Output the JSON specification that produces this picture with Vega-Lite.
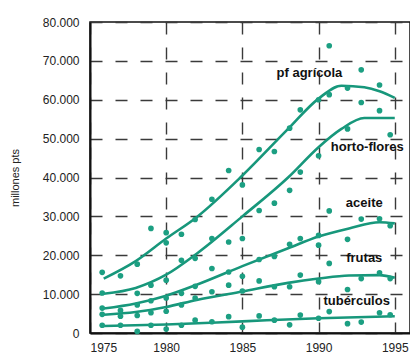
{
  "$schema": "https://vega.github.io/schema/vega-lite/v6.json",
  "width": 320,
  "height": 311,
  "autosize": {"type": "pad"},
  "padding": {"left": 9, "top": 16, "right": 0, "bottom": 0},
  "config": {
    "view": {"stroke": "#111", "strokeWidth": 1.5},
    "axis": {
      "labelFont": "Liberation Sans",
      "labelFontSize": 12,
      "labelColor": "#222",
      "labelOverlap": false,
      "titleFont": "Liberation Sans",
      "gridColor": "#3a3a3a",
      "gridWidth": 1.4,
      "gridDash": [12, 13],
      "domainColor": "#111",
      "domainWidth": 2,
      "ticks": false
    }
  },
  "datasets": {
    "points": [
      {"series": "pf agrícola", "year": 1975.8, "value": 15600},
      {"series": "pf agrícola", "year": 1977.0, "value": 14700},
      {"series": "pf agrícola", "year": 1978.1, "value": 17700},
      {"series": "pf agrícola", "year": 1979.0, "value": 26900},
      {"series": "pf agrícola", "year": 1980.0, "value": 23200},
      {"series": "pf agrícola", "year": 1980.0, "value": 25800},
      {"series": "pf agrícola", "year": 1981.0, "value": 25400},
      {"series": "pf agrícola", "year": 1981.9, "value": 29200},
      {"series": "pf agrícola", "year": 1983.0, "value": 34400},
      {"series": "pf agrícola", "year": 1984.1, "value": 41800},
      {"series": "pf agrícola", "year": 1985.0, "value": 38100},
      {"series": "pf agrícola", "year": 1986.1, "value": 47200},
      {"series": "pf agrícola", "year": 1987.1, "value": 46700},
      {"series": "pf agrícola", "year": 1988.1, "value": 52700},
      {"series": "pf agrícola", "year": 1988.8, "value": 57400},
      {"series": "pf agrícola", "year": 1990.0, "value": 60000},
      {"series": "pf agrícola", "year": 1990.7, "value": 73900},
      {"series": "pf agrícola", "year": 1990.7, "value": 61300},
      {"series": "pf agrícola", "year": 1991.9, "value": 63000},
      {"series": "pf agrícola", "year": 1992.8, "value": 67700},
      {"series": "pf agrícola", "year": 1992.8, "value": 59300},
      {"series": "pf agrícola", "year": 1994.0, "value": 63800},
      {"series": "horto-flores", "year": 1975.8, "value": 10300},
      {"series": "horto-flores", "year": 1978.1, "value": 10200},
      {"series": "horto-flores", "year": 1979.0, "value": 12300},
      {"series": "horto-flores", "year": 1980.0, "value": 13600},
      {"series": "horto-flores", "year": 1981.0, "value": 18700},
      {"series": "horto-flores", "year": 1981.9, "value": 19200},
      {"series": "horto-flores", "year": 1983.0, "value": 24300},
      {"series": "horto-flores", "year": 1984.1, "value": 23400},
      {"series": "horto-flores", "year": 1985.0, "value": 24300},
      {"series": "horto-flores", "year": 1986.1, "value": 31500},
      {"series": "horto-flores", "year": 1987.1, "value": 33400},
      {"series": "horto-flores", "year": 1988.1, "value": 36700},
      {"series": "horto-flores", "year": 1988.8, "value": 41400},
      {"series": "horto-flores", "year": 1990.0, "value": 45600},
      {"series": "horto-flores", "year": 1991.9, "value": 52500},
      {"series": "horto-flores", "year": 1994.0, "value": 57200},
      {"series": "horto-flores", "year": 1994.7, "value": 51000},
      {"series": "aceite", "year": 1975.8, "value": 6400},
      {"series": "aceite", "year": 1977.0, "value": 5800},
      {"series": "aceite", "year": 1978.1, "value": 7200},
      {"series": "aceite", "year": 1979.0, "value": 8300},
      {"series": "aceite", "year": 1980.0, "value": 9000},
      {"series": "aceite", "year": 1981.0, "value": 10200},
      {"series": "aceite", "year": 1981.9, "value": 12000},
      {"series": "aceite", "year": 1983.0, "value": 16600},
      {"series": "aceite", "year": 1984.1, "value": 15700},
      {"series": "aceite", "year": 1985.0, "value": 14600},
      {"series": "aceite", "year": 1986.1, "value": 18900},
      {"series": "aceite", "year": 1987.1, "value": 19700},
      {"series": "aceite", "year": 1988.1, "value": 22800},
      {"series": "aceite", "year": 1988.8, "value": 24300},
      {"series": "aceite", "year": 1990.0, "value": 22600},
      {"series": "aceite", "year": 1990.0, "value": 25100},
      {"series": "aceite", "year": 1990.7, "value": 31400},
      {"series": "aceite", "year": 1991.9, "value": 24100},
      {"series": "aceite", "year": 1992.8, "value": 29300},
      {"series": "aceite", "year": 1994.0, "value": 29400},
      {"series": "aceite", "year": 1994.7, "value": 27600},
      {"series": "frutas", "year": 1975.8, "value": 4800},
      {"series": "frutas", "year": 1977.0, "value": 4300},
      {"series": "frutas", "year": 1978.1, "value": 4500},
      {"series": "frutas", "year": 1979.0, "value": 5200},
      {"series": "frutas", "year": 1980.0, "value": 5600},
      {"series": "frutas", "year": 1981.0, "value": 7200},
      {"series": "frutas", "year": 1981.9, "value": 9000},
      {"series": "frutas", "year": 1983.0, "value": 10600},
      {"series": "frutas", "year": 1984.1, "value": 12300},
      {"series": "frutas", "year": 1985.0, "value": 10800},
      {"series": "frutas", "year": 1986.1, "value": 13400},
      {"series": "frutas", "year": 1987.1, "value": 11900},
      {"series": "frutas", "year": 1988.1, "value": 11900},
      {"series": "frutas", "year": 1988.8, "value": 14900},
      {"series": "frutas", "year": 1990.0, "value": 13200},
      {"series": "frutas", "year": 1990.7, "value": 17900},
      {"series": "frutas", "year": 1991.9, "value": 11200},
      {"series": "frutas", "year": 1992.8, "value": 14000},
      {"series": "frutas", "year": 1994.0, "value": 15500},
      {"series": "frutas", "year": 1994.7, "value": 14000},
      {"series": "tubérculos", "year": 1975.8, "value": 2000},
      {"series": "tubérculos", "year": 1977.0, "value": 2000},
      {"series": "tubérculos", "year": 1978.1, "value": 400},
      {"series": "tubérculos", "year": 1979.0, "value": 2000},
      {"series": "tubérculos", "year": 1980.0, "value": 1000},
      {"series": "tubérculos", "year": 1981.0, "value": 2000},
      {"series": "tubérculos", "year": 1981.9, "value": 3300},
      {"series": "tubérculos", "year": 1983.0, "value": 2900},
      {"series": "tubérculos", "year": 1984.1, "value": 4200},
      {"series": "tubérculos", "year": 1985.0, "value": 1500},
      {"series": "tubérculos", "year": 1986.1, "value": 4400},
      {"series": "tubérculos", "year": 1987.1, "value": 3300},
      {"series": "tubérculos", "year": 1988.1, "value": 2100},
      {"series": "tubérculos", "year": 1988.8, "value": 4600},
      {"series": "tubérculos", "year": 1990.0, "value": 3800},
      {"series": "tubérculos", "year": 1990.7, "value": 5500},
      {"series": "tubérculos", "year": 1991.9, "value": 2400},
      {"series": "tubérculos", "year": 1992.8, "value": 2800},
      {"series": "tubérculos", "year": 1994.0, "value": 5200},
      {"series": "tubérculos", "year": 1994.7, "value": 4700}
    ],
    "curves": [
      {"series": "pf agrícola", "year": 1975.9, "value": 14000},
      {"series": "pf agrícola", "year": 1978, "value": 18500},
      {"series": "pf agrícola", "year": 1980, "value": 24300},
      {"series": "pf agrícola", "year": 1982, "value": 29800},
      {"series": "pf agrícola", "year": 1985, "value": 40500},
      {"series": "pf agrícola", "year": 1988, "value": 52500},
      {"series": "pf agrícola", "year": 1990, "value": 60300},
      {"series": "pf agrícola", "year": 1991.5, "value": 63600},
      {"series": "pf agrícola", "year": 1993, "value": 63200},
      {"series": "pf agrícola", "year": 1994, "value": 62200},
      {"series": "pf agrícola", "year": 1995, "value": 60500},
      {"series": "horto-flores", "year": 1975.9, "value": 10100},
      {"series": "horto-flores", "year": 1978, "value": 11600},
      {"series": "horto-flores", "year": 1980, "value": 15000},
      {"series": "horto-flores", "year": 1982, "value": 20400},
      {"series": "horto-flores", "year": 1985, "value": 30000},
      {"series": "horto-flores", "year": 1988, "value": 40000},
      {"series": "horto-flores", "year": 1990, "value": 47800},
      {"series": "horto-flores", "year": 1991.5, "value": 52500},
      {"series": "horto-flores", "year": 1993, "value": 55300},
      {"series": "horto-flores", "year": 1995, "value": 55300},
      {"series": "aceite", "year": 1975.9, "value": 6300},
      {"series": "aceite", "year": 1978, "value": 7600},
      {"series": "aceite", "year": 1980, "value": 9600},
      {"series": "aceite", "year": 1982, "value": 12400},
      {"series": "aceite", "year": 1985, "value": 17200},
      {"series": "aceite", "year": 1988, "value": 21800},
      {"series": "aceite", "year": 1990, "value": 24800},
      {"series": "aceite", "year": 1992, "value": 26900},
      {"series": "aceite", "year": 1994, "value": 28500},
      {"series": "aceite", "year": 1995, "value": 28200},
      {"series": "frutas", "year": 1975.9, "value": 4700},
      {"series": "frutas", "year": 1978, "value": 5400},
      {"series": "frutas", "year": 1980, "value": 6700},
      {"series": "frutas", "year": 1982, "value": 8500},
      {"series": "frutas", "year": 1985, "value": 10700},
      {"series": "frutas", "year": 1988, "value": 12900},
      {"series": "frutas", "year": 1990, "value": 14000},
      {"series": "frutas", "year": 1992, "value": 14800},
      {"series": "frutas", "year": 1994, "value": 14900},
      {"series": "frutas", "year": 1995, "value": 14200},
      {"series": "tubérculos", "year": 1975.9, "value": 1800},
      {"series": "tubérculos", "year": 1980, "value": 2200},
      {"series": "tubérculos", "year": 1985, "value": 3000},
      {"series": "tubérculos", "year": 1990, "value": 3800},
      {"series": "tubérculos", "year": 1995, "value": 4300}
    ],
    "labels": [
      {"label": "pf agrícola", "year": 1989.4, "value": 67000},
      {"label": "horto-flores", "year": 1993.2, "value": 47800},
      {"label": "aceite", "year": 1993.0, "value": 33500},
      {"label": "frutas", "year": 1993.0, "value": 19200},
      {"label": "tubérculos", "year": 1992.5, "value": 8200}
    ]
  },
  "encoding": {
    "x": {
      "field": "year", "type": "quantitative",
      "scale": {"domain": [1975, 1996], "nice": false, "zero": false},
      "axis": {"values": [1975, 1980, 1985, 1990, 1995], "tickCount": 10, "format": "d", "title": null, "labelPadding": 9}
    },
    "y": {
      "field": "value", "type": "quantitative",
      "scale": {"domain": [0, 80000], "nice": false},
      "axis": {
        "values": [0, 10000, 20000, 30000, 40000, 50000, 60000, 70000, 80000],
        "tickCount": 12,
        "labelExpr": "replace(format(datum.value, ','), ',', '.')",
        "labelPadding": 11,
        "title": "millones pts",
        "titleFontSize": 11,
        "titleFontWeight": "normal",
        "titleColor": "#222",
        "titlePadding": 22
      }
    }
  },
  "layer": [
    {
      "data": {"name": "curves"},
      "mark": {"type": "line", "interpolate": "monotone", "color": "#17977b", "strokeWidth": 2.6},
      "encoding": {
        "detail": {"field": "series"}
      }
    },
    {
      "data": {"name": "points"},
      "mark": {"type": "circle", "color": "#1c9f82", "opacity": 1, "size": 32},
      "encoding": {}
    },
    {
      "data": {"name": "labels"},
      "mark": {"type": "text", "font": "Liberation Sans", "fontWeight": "bold", "fontSize": 13, "color": "#111"},
      "encoding": {
        "text": {"field": "label"}
      }
    }
  ]
}
